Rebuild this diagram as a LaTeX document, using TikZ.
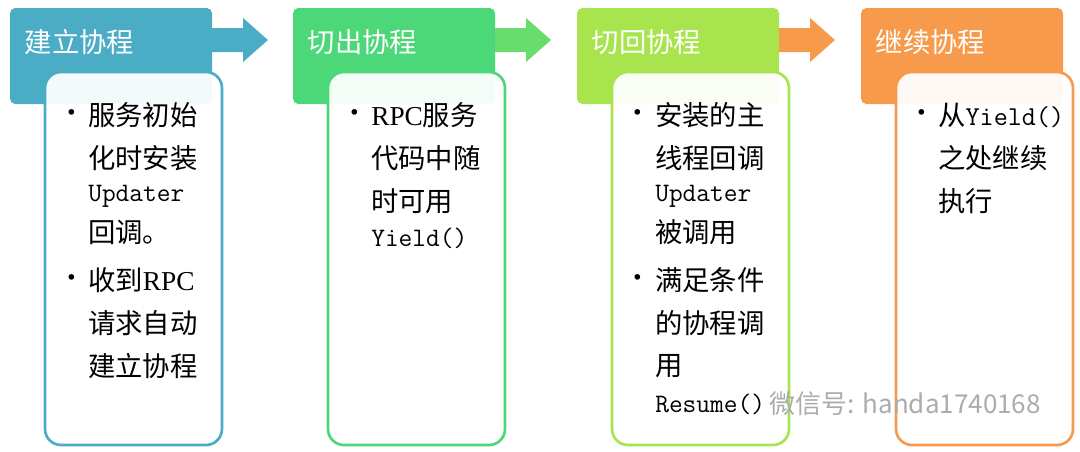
\documentclass[tikz,border=0pt]{standalone}
\usepackage{fontspec}
\setmainfont{Noto Sans CJK SC}
\newfontfamily\cjk{Noto Sans CJK SC}
\newfontfamily\rpcfont{Liberation Serif}
\setmonofont{Latin Modern Mono}
\definecolor{cA}{HTML}{4BACC6}
\definecolor{cB}{HTML}{4CD879}
\definecolor{cC}{HTML}{A8E44E}
\definecolor{cD}{HTML}{F79A4C}
\begin{document}
\begin{tikzpicture}[x=0.75pt,y=-0.75pt,
  hdr/.style={rounded corners=4pt,draw=none},
  body/.style={rounded corners=12pt,line width=2pt,fill=white,fill opacity=0.94},
  htxt/.style={anchor=west,text=white,font=\fontsize{20.5}{24}\selectfont},
  ln/.style={anchor=west,font=\fontsize{20.5}{24}\selectfont,inner sep=0pt},
  mn/.style={anchor=west,font=\ttfamily\fontsize{20}{22}\selectfont,inner sep=0pt},
  bul/.style={anchor=center,font=\fontsize{20}{22}\selectfont,inner sep=0pt}]
\useasboundingbox (0,0) rectangle (1080,451);
% headers and bodies
\foreach \x/\c in {0/cA,283/cB,567/cC,851/cD}{
  \fill[hdr,fill=\c] (\x+10,8) rectangle (\x+212,104);
  \draw[body,draw=\c] (\x+45,72) rectangle (\x+222,445);
}
\node[htxt] (h1) at (20,42) {建立协程};
\node[htxt] (h2) at (303,42) {切出协程};
\node[htxt] (h3) at (587,42) {切回协程};
\node[htxt] (h4) at (871,42) {继续协程};
% arrows
\fill[cA] (212,28) -- (243,28) -- (243,18) -- (268,40) -- (243,62) -- (243,52) -- (212,52) -- cycle;
\fill[cB!70!cC] (495,28) -- (526,28) -- (526,18) -- (551,40) -- (526,62) -- (526,52) -- (495,52) -- cycle;
\fill[cD] (779,28) -- (810,28) -- (810,18) -- (835,40) -- (810,62) -- (810,52) -- (779,52) -- cycle;
% column 1
\node[bul] (b11) at (72,116) {•};
\node[ln] (t11) at (88,115) {服务初始};
\node[ln] (t12) at (88,158) {化时安装};
\node[mn] (t13) at (88,196) {Updater};
\node[ln] (t14) at (88,232) {回调。};
\node[bul] (b12) at (72,281) {•};
\node[ln] (t15) at (88,280) {收到{\rpcfont RPC}};
\node[ln] (t16) at (88,323) {请求自动};
\node[ln] (t17) at (88,366) {建立协程};
% column 2
\node[bul] (b21) at (355,116) {•};
\node[ln] (t21) at (371,115) {{\rpcfont RPC}服务};
\node[ln] (t22) at (371,158) {代码中随};
\node[ln] (t23) at (371,201) {时可用};
\node[mn] (t24) at (371,238) {Yield()};
% column 3
\node[bul] (b31) at (638,116) {•};
\node[ln] (t31) at (655,115) {安装的主};
\node[ln] (t32) at (655,158) {线程回调};
\node[mn] (t33) at (655,196) {Updater};
\node[ln] (t34) at (655,232) {被调用};
\node[bul] (b32) at (638,281) {•};
\node[ln] (t35) at (655,280) {满足条件};
\node[ln] (t36) at (655,323) {的协程调};
\node[ln] (t37) at (655,366) {用};
\node[mn] (t38) at (655,404) {Resume()};
% column 4
\node[bul] (b41) at (922,116) {•};
\node[ln] (t41) at (938,115) {从\texttt{Yield()}};
\node[ln] (t42) at (938,158) {之处继续};
\node[ln] (t43) at (938,201) {执行};
% watermark
\node[anchor=west,text=gray!65,font=\fontsize{19.5}{22}\selectfont] (wm) at (765,404) {微信号: handa1740168};
\end{tikzpicture}
\end{document}
